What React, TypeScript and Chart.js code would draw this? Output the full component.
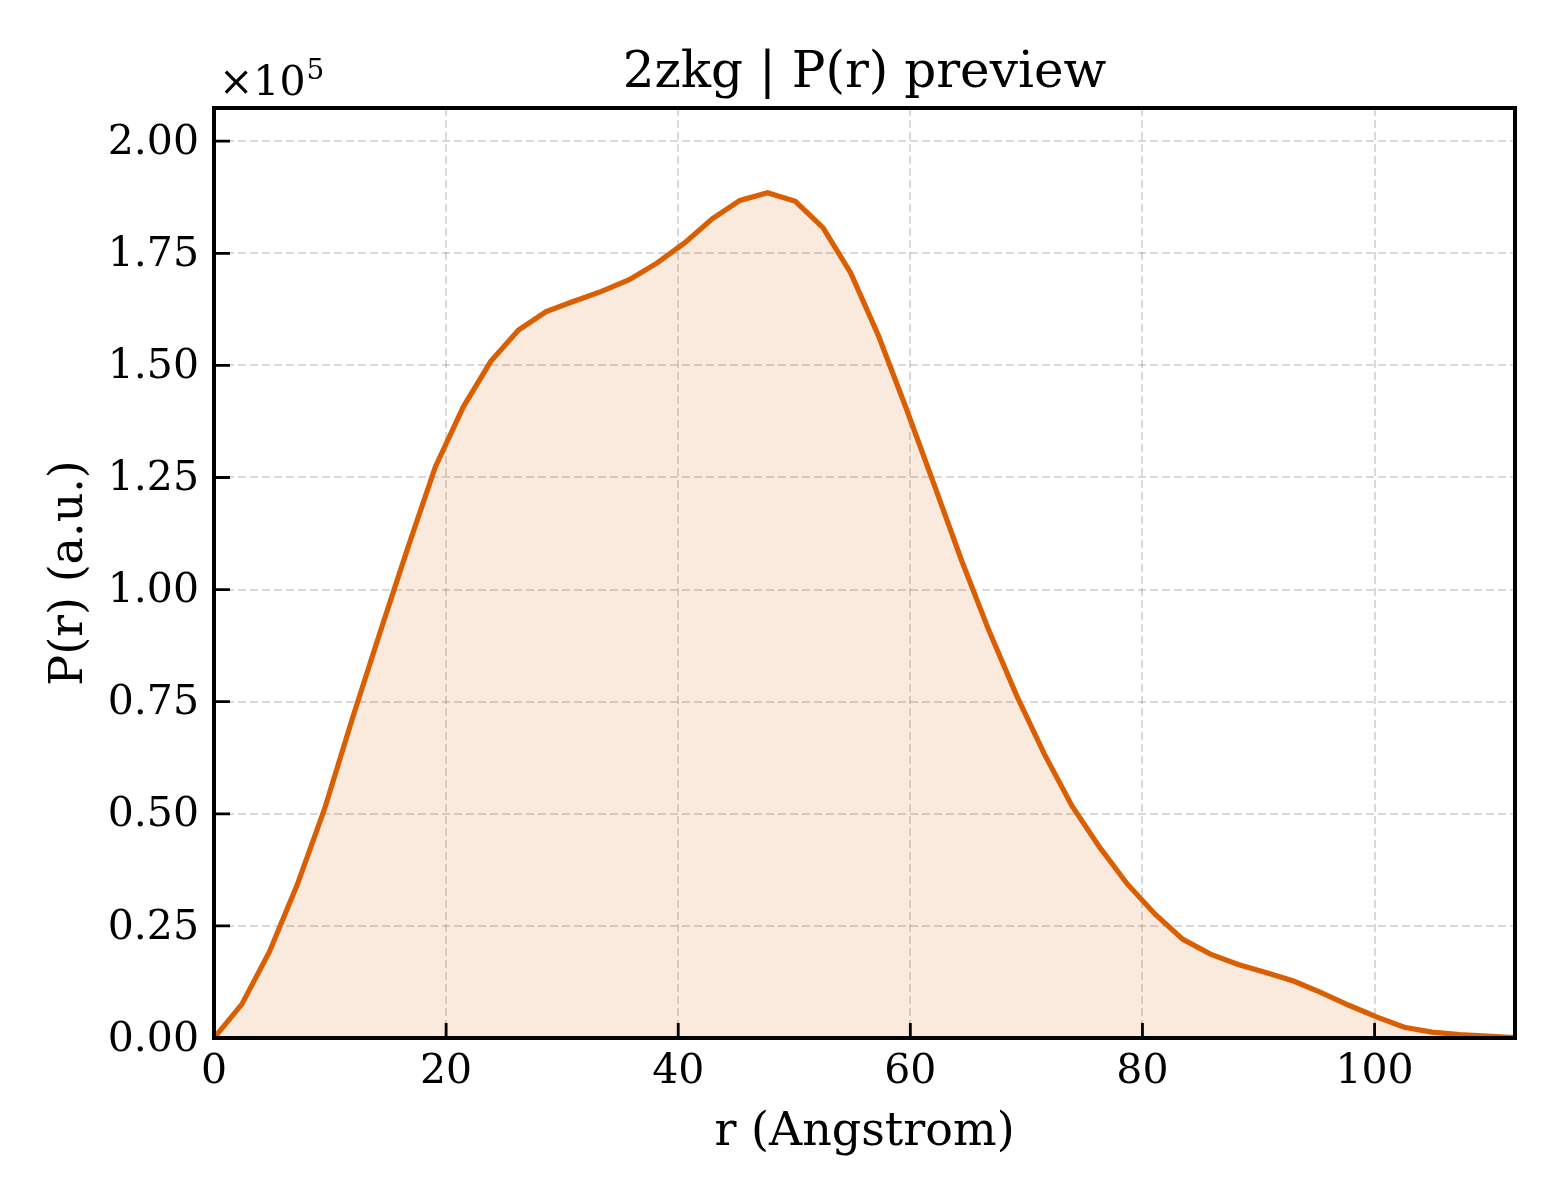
import React, { useEffect, useRef } from "react";
import { Chart, registerables } from "chart.js";

Chart.register(...registerables);

// r grid (Angstrom) and P(r) values read from the preview
const rAngstrom = [
  0, 2.39, 4.77, 7.16, 9.54, 11.93, 14.31, 16.7, 19.08, 21.47, 23.85, 26.24,
  28.62, 31.01, 33.39, 35.78, 38.16, 40.55, 42.93, 45.32, 47.7, 50.09, 52.47,
  54.86, 57.24, 59.63, 62.01, 64.4, 66.78, 69.17, 71.55, 73.94, 76.32, 78.71,
  81.09, 83.48, 85.86, 88.25, 90.63, 93.02, 95.4, 97.79, 100.17, 102.56,
  104.94, 107.33, 109.71, 112.1,
];
const prValues = [
  0, 7500, 19200, 34100, 51200, 71300, 90500, 109300, 127400, 140700, 150900,
  157900, 162000, 164300, 166500, 169100, 172800, 177300, 182700, 186800,
  188500, 186600, 180700, 170600, 156700, 140500, 123700, 106600, 90800,
  76300, 63300, 51700, 42500, 34300, 27600, 22000, 18700, 16400, 14600, 12700,
  10100, 7300, 4700, 2400, 1300, 750, 400, 100,
];

const xTicks = [0, 20, 40, 60, 80, 100];
const yTicks = [0, 25000, 50000, 75000, 100000, 125000, 150000, 175000, 200000];
const X_MAX = 112.1;
const Y_MAX = 207400;

const TITLE = "2zkg | P(r) preview";
const X_LABEL = "r (Angstrom)";
const Y_LABEL = "P(r) (a.u.)";

const FONT = "'DejaVu Serif', 'Liberation Serif', serif";
const ORANGE = "#d95f02";
const GRID = "rgba(128,128,128,0.3)";

const framePlugin = {
  id: "frame",
  afterDraw(chart: any) {
    const { ctx, chartArea: a, scales } = chart;
    ctx.save();
    ctx.strokeStyle = "#000";
    ctx.lineWidth = 2.8;
    ctx.beginPath();
    scales.y.ticks.forEach((t: any) => {
      const y = scales.y.getPixelForValue(t.value);
      ctx.moveTo(a.left, y);
      ctx.lineTo(a.left + 16, y);
    });
    scales.x.ticks.forEach((t: any) => {
      const x = scales.x.getPixelForValue(t.value);
      ctx.moveTo(x, a.bottom);
      ctx.lineTo(x, a.bottom - 15);
    });
    ctx.stroke();

    ctx.lineWidth = 4;
    ctx.strokeRect(a.left, a.top, a.right - a.left, a.bottom - a.top);

    const cx = (a.left + a.right) / 2;
    ctx.fillStyle = "#000";
    ctx.textAlign = "center";
    ctx.textBaseline = "alphabetic";
    ctx.font = `50px ${FONT}`;
    ctx.fillText(TITLE, cx, 87);
    ctx.font = `46px ${FONT}`;
    ctx.fillText(X_LABEL, cx, 1145);
    ctx.save();
    ctx.translate(82, (a.top + a.bottom) / 2);
    ctx.rotate(-Math.PI / 2);
    ctx.fillText(Y_LABEL, 0, 0);
    ctx.restore();

    // offset text for the y axis
    ctx.textAlign = "left";
    ctx.font = `41px ${FONT}`;
    ctx.fillText("×10", 219, 95);
    const w = ctx.measureText("×10").width;
    ctx.font = `28px ${FONT}`;
    ctx.fillText("5", 219 + w + 1, 79);
    ctx.restore();
  },
};

const App = () => {
  const ref = useRef<HTMLCanvasElement>(null!);

  useEffect(() => {
    document.body.style.margin = "0";
    const points = rAngstrom.map((r, i) => ({ x: r, y: prValues[i] }));
    const chart = new Chart(ref.current, {
      type: "line",
      data: {
        datasets: [
          {
            data: points,
            borderColor: ORANGE,
            backgroundColor: "rgba(217,95,2,0.13)",
            borderWidth: 5.2,
            pointRadius: 0,
            tension: 0,
            fill: "origin",
          },
        ],
      },
      options: {
        animation: false,
        responsive: false,
        devicePixelRatio: 1,
        layout: { padding: { top: 108, right: 45, left: 0, bottom: 0 } },
        plugins: {
          legend: { display: false },
          tooltip: { enabled: false },
        },
        scales: {
          x: {
            type: "linear",
            min: 0,
            max: X_MAX,
            afterBuildTicks: (s: any) => {
              s.ticks = xTicks.map((v) => ({ value: v }));
            },
            afterFit: (s: any) => {
              s.height = 162;
            },
            ticks: {
              autoSkip: false,
              color: "#000",
              padding: 10,
              maxRotation: 0,
              font: { family: FONT, size: 41 },
            },
            grid: {
              color: GRID,
              lineWidth: 2,
              drawTicks: false,
              borderDash: [8, 4],
            } as any,
            border: { display: false, dash: [8, 4] },
          },
          y: {
            type: "linear",
            min: 0,
            max: Y_MAX,
            afterBuildTicks: (s: any) => {
              s.ticks = yTicks.map((v) => ({ value: v }));
            },
            afterFit: (s: any) => {
              s.width = 214;
            },
            ticks: {
              autoSkip: false,
              color: "#000",
              padding: 15,
              labelOffset: 2,
              font: { family: FONT, size: 41 },
              callback: (v: any) => (Number(v) / 1e5).toFixed(2),
            },
            grid: {
              color: GRID,
              lineWidth: 2,
              drawTicks: false,
              borderDash: [8, 4],
            } as any,
            border: { display: false, dash: [8, 4] },
          },
        },
      },
      plugins: [framePlugin],
    });
    return () => {
      chart.destroy();
    };
  }, []);

  return (
    <div style={{ width: 1560, height: 1200, background: "#fff" }}>
      <canvas ref={ref} width={1560} height={1200} />
    </div>
  );
};

export default App;
